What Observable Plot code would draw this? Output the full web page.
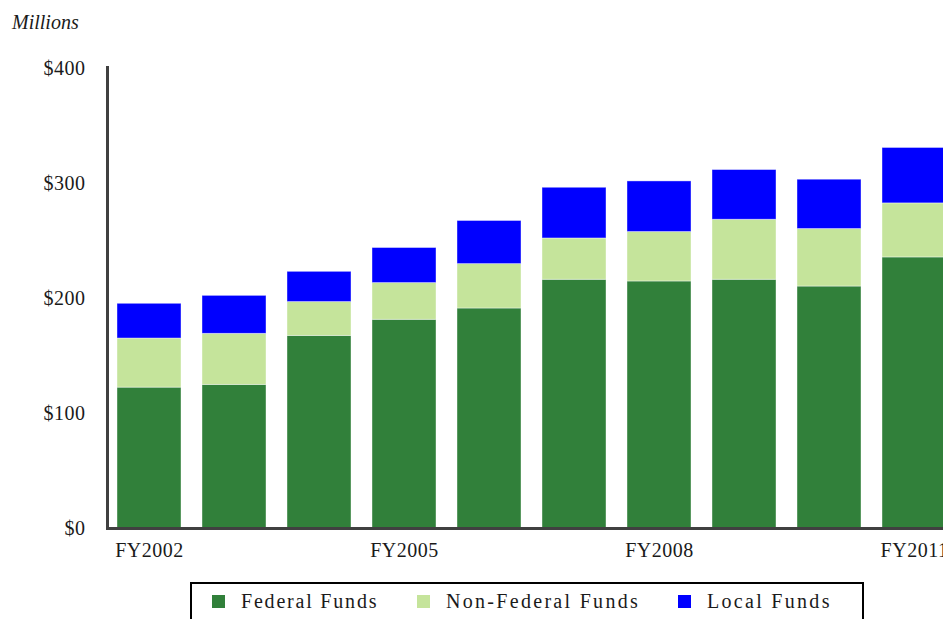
<!DOCTYPE html>
<html>
<head>
<meta charset="utf-8">
<script src="https://cdn.jsdelivr.net/npm/d3@7"></script>
<script src="https://cdn.jsdelivr.net/npm/@observablehq/plot@0.6"></script>
<style>
  html, body { margin: 0; padding: 0; background: #fff; }
  body { width: 943px; height: 619px; overflow: hidden; position: relative; font-family: "Liberation Serif", "DejaVu Serif", serif; color: #1a1a1a; }
  #units { position: absolute; left: 12px; top: 11px; font-style: italic; font-size: 20px; }
  #chart { position: absolute; left: 0; top: 40px; width: 957px; }
  #legend { position: absolute; left: 190px; top: 582px; width: 670px; height: 60px; border: 2px solid #000; }
  .item { position: absolute; top: 6px; display: flex; align-items: center; font-size: 20px; letter-spacing: 1.8px; white-space: nowrap; }
  .item.wide { letter-spacing: 2.3px; }
  .sw { width: 13px; height: 13px; margin-right: 16px; display: inline-block; }
</style>
</head>
<body>
<div id="units">Millions</div>
<div id="chart"></div>
<div id="legend"></div>
<script>
const years = ["FY2002","FY2003","FY2004","FY2005","FY2006","FY2007","FY2008","FY2009","FY2010","FY2011"];
const federalFunds    = [122.5, 124.9, 167.5, 181.5, 191.3, 216.3, 214.8, 216.3, 210.4, 235.7];
const nonFederalFunds = [ 42.7,  44.4,  29.4,  31.9,  38.6,  35.9,  43.0,  52.2,  50.0,  47.0];
const localFunds      = [ 30.2,  33.0,  26.3,  30.5,  37.5,  44.1,  44.0,  43.2,  42.9,  48.2];
const seriesNames  = ["Federal Funds", "Non-Federal Funds", "Local Funds"];
const seriesColors = ["#31803a", "#c5e49b", "#0000ff"];
const yTicks = [0, 100, 200, 300, 400];
const xTickLabels = ["FY2002", "FY2005", "FY2008", "FY2011"];

const seriesValues = [federalFunds, nonFederalFunds, localFunds];
const data = [];
seriesNames.forEach((s, k) => years.forEach((yr, i) => data.push({year: yr, series: s, value: seriesValues[k][i]})));

const leftAxisLine = (index, scales, values, dims) => {
  const ns = "http://www.w3.org/2000/svg";
  const g = document.createElementNS(ns, "g");
  const l = document.createElementNS(ns, "line");
  const x = dims.marginLeft + 1.5;
  l.setAttribute("x1", x); l.setAttribute("x2", x);
  l.setAttribute("y1", scales.y(400) - 2); l.setAttribute("y2", scales.y(0) + 1.5);
  l.setAttribute("stroke", "#404040"); l.setAttribute("stroke-width", 3);
  g.appendChild(l);
  return g;
};

const chart = Plot.plot({
  width: 957,
  height: 520,
  marginTop: 28,
  marginBottom: 32,
  marginLeft: 106,
  marginRight: 0,
  style: {fontFamily: "Liberation Serif, DejaVu Serif, serif", fontSize: "20px", color: "#1a1a1a", background: "white", letterSpacing: "0.5px", maxWidth: "none"},
  x: {domain: years, paddingInner: 0.247, paddingOuter: 0.129, label: null},
  y: {domain: [0, 400], label: null},
  color: {domain: seriesNames, range: seriesColors},
  marks: [
    Plot.barY(data, {x: "year", y: "value", fill: "series", order: seriesNames, stroke: "white", strokeOpacity: 0.5, strokeWidth: 0.8}),
    Plot.axisY({ticks: yTicks, tickSize: 0, tickPadding: 21, tickFormat: d => "$" + d, label: null}),
    Plot.axisX({ticks: xTickLabels, tickSize: 0, tickPadding: 14, label: null}),
    Plot.ruleY([0], {stroke: "#404040", strokeWidth: 3}),
    leftAxisLine
  ]
});
document.getElementById("chart").appendChild(chart);

const legend = document.getElementById("legend");
const legendLeft = [20, 225, 486];
seriesNames.forEach((s, k) => {
  const it = document.createElement("div");
  it.className = "item" + (k > 0 ? " wide" : "");
  it.style.left = legendLeft[k] + "px";
  const sw = document.createElement("span");
  sw.className = "sw";
  sw.style.background = seriesColors[k];
  const t = document.createElement("span");
  t.textContent = s;
  it.appendChild(sw); it.appendChild(t);
  legend.appendChild(it);
});
</script>
</body>
</html>
